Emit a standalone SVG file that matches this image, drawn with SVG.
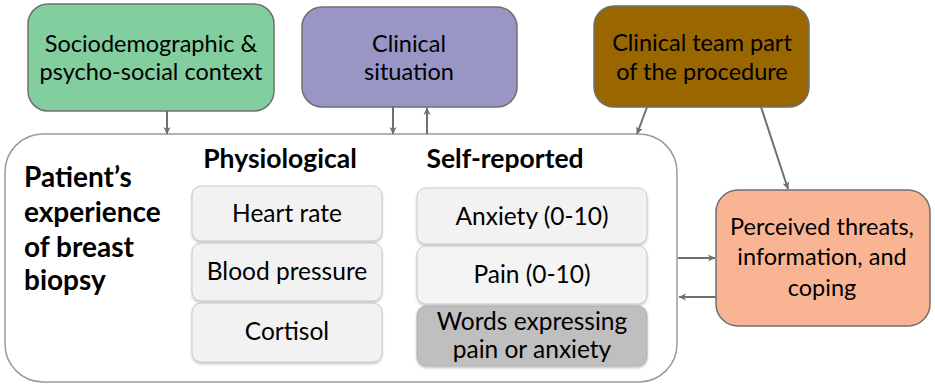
<svg xmlns="http://www.w3.org/2000/svg" width="935" height="387" viewBox="0 0 935 387">
<style>
text{font-family:Lato,"Open Sans","DejaVu Sans",sans-serif;fill:#000}
.lbl{font-size:23.5px;text-anchor:middle}
.in{font-size:24.5px;text-anchor:middle}
.hd{font-size:26.5px;font-weight:bold}
.ttl{font-size:28px;font-weight:bold}
.top{stroke:#6f6f6f;stroke-width:1.5}
.cell{fill:#f2f2f2;stroke:#c8c8c8;stroke-width:1;filter:url(#sh)}
.conn{stroke:#6f6f6f;stroke-width:2;fill:none;marker-end:url(#ah)}
</style>
<defs>
<marker id="ah" markerWidth="8" markerHeight="8" refX="7" refY="4" orient="auto" markerUnits="userSpaceOnUse">
<path d="M0,0.5 L7.5,4 L0,7.5 L2,4 Z" fill="#6f6f6f"/>
</marker>
<filter id="sh" x="-5%" y="-5%" width="110%" height="120%">
<feDropShadow dx="0" dy="1.5" stdDeviation="1" flood-color="#000" flood-opacity="0.25"/>
</filter>
</defs>
<rect width="935" height="387" fill="#fff"/>

<g id="main">
<rect x="5" y="134" width="672" height="248" rx="38" fill="#fff" stroke="#9a9a9a" stroke-width="1.5"/>
<text class="ttl" x="24" y="187">Patient’s</text>
<text class="ttl" x="24" y="222">experience</text>
<text class="ttl" x="24" y="257">of breast</text>
<text class="ttl" x="24" y="290">biopsy</text>
</g>

<g id="physiological">
<text class="hd" x="280" y="168" text-anchor="middle">Physiological</text>
<g id="heart-rate"><rect class="cell" x="192" y="186" width="190" height="55" rx="9"/><text class="in" x="287" y="222">Heart rate</text></g>
<g id="blood-pressure"><rect class="cell" x="192" y="243" width="190" height="58" rx="9"/><text class="in" x="287" y="280">Blood pressure</text></g>
<g id="cortisol"><rect class="cell" x="192" y="303" width="190" height="59" rx="9"/><text class="in" x="287" y="340">Cortisol</text></g>
</g>

<g id="self-reported">
<text class="hd" x="505" y="168" text-anchor="middle">Self-reported</text>
<g id="anxiety"><rect class="cell" x="417" y="188" width="230" height="56" rx="9"/><text class="in" x="532" y="225">Anxiety (0-10)</text></g>
<g id="pain"><rect class="cell" x="417" y="246" width="230" height="58" rx="9" style="fill:#f4f4f4"/><text class="in" x="532" y="283">Pain (0-10)</text></g>
<g id="words"><rect class="cell" x="417" y="306" width="230" height="60" rx="9" style="fill:#bfbfbf;stroke:#b0b0b0"/><text class="in" x="532" y="330">Words expressing</text><text class="in" x="532" y="358">pain or anxiety</text></g>
</g>

<g id="sociodemographic">
<rect class="top" x="28" y="4" width="246" height="107" rx="20" fill="#82ce9f"/>
<text class="lbl" x="151" y="52">Sociodemographic &amp;</text>
<text class="lbl" x="151" y="80">psycho-social context</text>
</g>

<g id="clinical-situation">
<rect class="top" x="302" y="7" width="215" height="100" rx="20" fill="#9995c5"/>
<text class="lbl" x="409" y="52">Clinical</text>
<text class="lbl" x="409" y="80">situation</text>
</g>

<g id="clinical-team">
<rect class="top" x="594" y="6" width="215" height="101" rx="20" fill="#996600"/>
<text class="lbl" x="702" y="51">Clinical team part</text>
<text class="lbl" x="702" y="80">of the procedure</text>
</g>

<g id="perceived">
<rect class="top" x="716" y="190" width="214" height="136" rx="22" fill="#f9b593"/>
<text class="lbl" x="822" y="235">Perceived threats,</text>
<text class="lbl" x="822" y="265">information, and</text>
<text class="lbl" x="822" y="296">coping</text>
</g>

<g id="connectors">
<line class="conn" x1="167" y1="111" x2="167" y2="134"/>
<line class="conn" x1="393" y1="107" x2="393" y2="134"/>
<line class="conn" x1="427" y1="134" x2="427" y2="108"/>
<line class="conn" x1="647" y1="107" x2="637" y2="134"/>
<line class="conn" x1="761" y1="107" x2="788" y2="189"/>
<line class="conn" x1="678" y1="258" x2="715" y2="258"/>
<line class="conn" x1="716" y1="297" x2="679" y2="297"/>
</g>
</svg>
